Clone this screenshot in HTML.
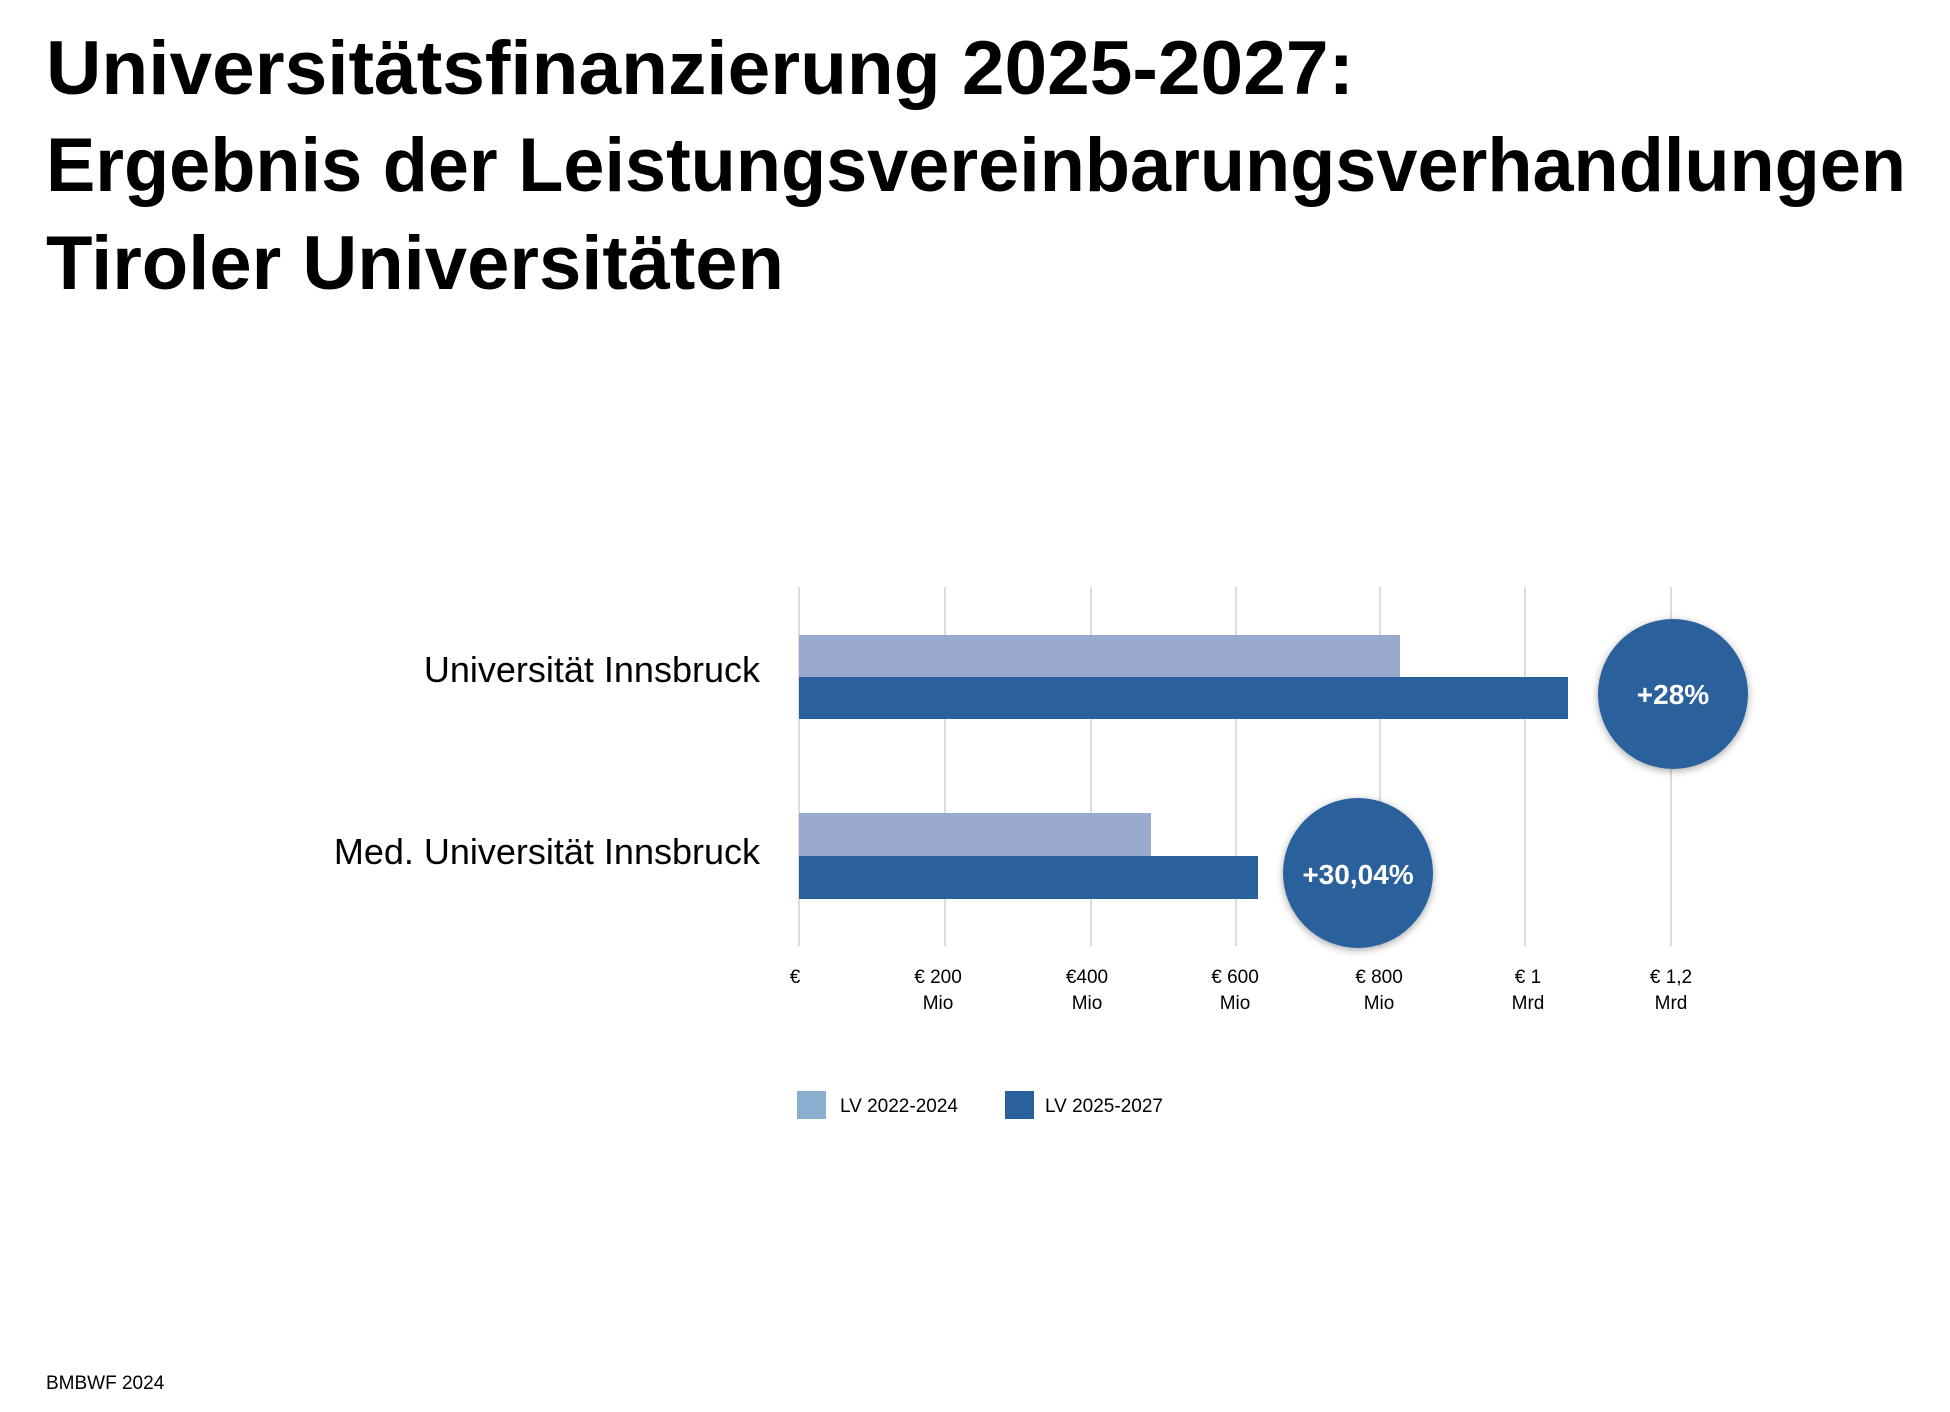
<!DOCTYPE html>
<html><head><meta charset="utf-8"><style>
html,body{margin:0;padding:0;background:#fff;}
svg{display:block;font-family:"Liberation Sans",sans-serif;}
</style></head><body>
<svg width="1950" height="1412" viewBox="0 0 1950 1412">
<defs><filter id="sh" x="-30%" y="-30%" width="160%" height="160%"><feDropShadow dx="0" dy="2" stdDeviation="4" flood-color="#000" flood-opacity="0.35"/></filter></defs>
<g font-weight="bold" font-size="76" fill="#000">
<text x="46" y="94" textLength="1308" lengthAdjust="spacingAndGlyphs">Universitätsfinanzierung 2025-2027:</text>
<text x="46" y="191" textLength="1860" lengthAdjust="spacingAndGlyphs">Ergebnis der Leistungsvereinbarungsverhandlungen</text>
<text x="46" y="289" textLength="738" lengthAdjust="spacingAndGlyphs">Tiroler Universitäten</text>
</g>
<g transform="translate(-5,-4)">
<g stroke="#dcdcdc" stroke-width="2">
<line x1="804" y1="591" x2="804" y2="950"/><line x1="950" y1="591" x2="950" y2="950"/>
<line x1="1096" y1="591" x2="1096" y2="950"/><line x1="1241" y1="591" x2="1241" y2="950"/>
<line x1="1385" y1="591" x2="1385" y2="950"/><line x1="1530" y1="591" x2="1530" y2="950"/>
<line x1="1676" y1="591" x2="1676" y2="950"/>
</g>
<rect x="804" y="639" width="601" height="42" fill="#9aaacf"/>
<rect x="804" y="681" width="769" height="42" fill="#2a619c"/>
<rect x="804" y="817" width="352" height="43" fill="#9aaacf"/>
<rect x="804" y="860" width="459" height="43" fill="#2a619c"/>
<circle cx="1678" cy="698" r="75" fill="#2a619c" filter="url(#sh)"/>
<circle cx="1363" cy="877" r="75" fill="#2a619c" filter="url(#sh)"/>
<g fill="#fff" font-size="28" font-weight="bold" text-anchor="middle">
<text x="1678" y="708">+28%</text><text x="1363" y="888">+30,04%</text>
</g>
<g font-size="36" text-anchor="end" fill="#000">
<text x="765" y="686">Universität Innsbruck</text>
<text x="765" y="868">Med. Universität Innsbruck</text>
</g>
<g font-size="19" text-anchor="middle" fill="#000">
<text x="800" y="987">€</text>
<text x="943" y="987">€ 200</text><text x="943" y="1013">Mio</text>
<text x="1092" y="987">€400</text><text x="1092" y="1013">Mio</text>
<text x="1240" y="987">€ 600</text><text x="1240" y="1013">Mio</text>
<text x="1384" y="987">€ 800</text><text x="1384" y="1013">Mio</text>
<text x="1533" y="987">€ 1</text><text x="1533" y="1013">Mrd</text>
<text x="1676" y="987">€ 1,2</text><text x="1676" y="1013">Mrd</text>
</g>
<rect x="802" y="1095" width="29" height="28" fill="#8aafcf"/>
<rect x="1010" y="1095" width="29" height="28" fill="#2a619c"/>
<g font-size="19" fill="#000">
<text x="845" y="1116">LV 2022-2024</text>
<text x="1050" y="1116">LV 2025-2027</text>
</g>
</g>
<text x="46" y="1389" font-size="19" fill="#000">BMBWF 2024</text>
</svg>
</body></html>
